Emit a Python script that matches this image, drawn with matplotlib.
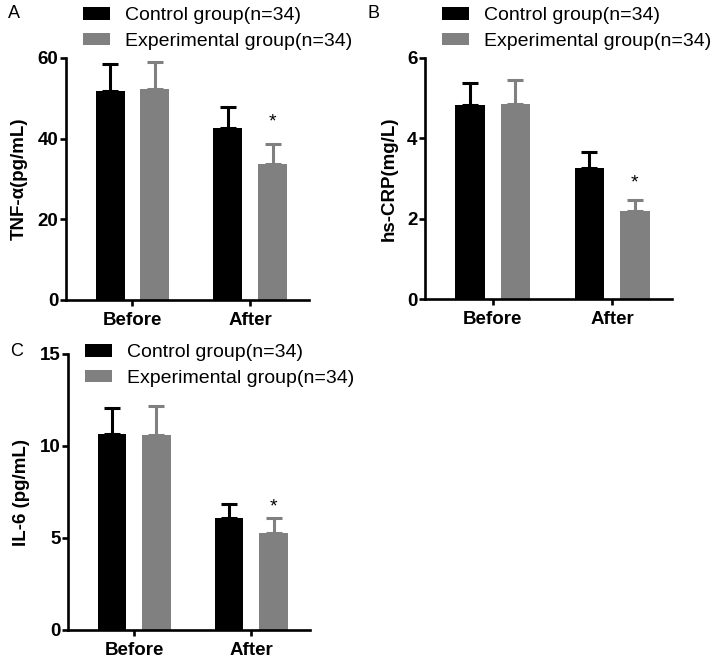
import numpy as np
import matplotlib
matplotlib.use('Agg')
import matplotlib.pyplot as plt

plt.rcParams['font.family'] = ['Liberation Sans', 'DejaVu Sans']

groups = ['Before', 'After']
labels = ['Control group(n=34)', 'Experimental group(n=34)']

# panel A: TNF-a
tnf_ctrl = [51.9, 42.7]
tnf_ctrl_sd = [6.5, 5.1]
tnf_exp = [52.2, 33.7]
tnf_exp_sd = [6.7, 4.9]

# panel B: hs-CRP
crp_ctrl = [4.83, 3.25]
crp_ctrl_sd = [0.54, 0.40]
crp_exp = [4.85, 2.20]
crp_exp_sd = [0.60, 0.26]

# panel C: IL-6
il6_ctrl = [10.63, 6.07]
il6_ctrl_sd = [1.45, 0.76]
il6_exp = [10.60, 5.25]
il6_exp_sd = [1.57, 0.82]

W, H = 718, 662
fig = plt.figure(figsize=(W / 100, H / 100), dpi=100)

BLACK = '#000000'
GREY = '#808080'


def panel(rect, ctrl, ctrl_sd, exp, exp_sd, ymax, step, ylabel, letter, letter_y, star_y, legend_top):
    l, r, t, b = rect
    ax = fig.add_axes([l / W, 1 - b / H, (r - l) / W, (b - t) / H])
    x = np.arange(len(groups))
    off = 0.19
    w = 0.245
    ax.bar(x - off, ctrl, w, color=BLACK, label=labels[0], zorder=2)
    ax.bar(x + off, exp, w, color=GREY, label=labels[1], zorder=2)
    ax.errorbar(x - off, ctrl, yerr=[np.zeros(2), ctrl_sd], fmt='none', ecolor=BLACK,
                elinewidth=2.2, capsize=5.5, capthick=2.2, zorder=3)
    ax.errorbar(x + off, exp, yerr=[np.zeros(2), exp_sd], fmt='none', ecolor=GREY,
                elinewidth=2.2, capsize=5.5, capthick=2.2, zorder=3)
    ax.text(1 + off, star_y, '*', ha='center', va='center', fontsize=14, color='black')
    ax.set_xlim(-0.565, 1.5)
    ax.set_ylim(0, ymax)
    ax.set_yticks(np.arange(0, ymax + 0.01, step))
    ax.set_xticks(x)
    ax.set_xticklabels(groups)
    for s in ['top', 'right']:
        ax.spines[s].set_visible(False)
    for s in ['left', 'bottom']:
        ax.spines[s].set_linewidth(1.9)
    ax.tick_params(width=1.9, length=4, labelsize=13.5, pad=1.5)
    ax.tick_params(axis='x', pad=4.5)
    for lab in ax.get_xticklabels() + ax.get_yticklabels():
        lab.set_fontweight('bold')
    ax.set_ylabel(ylabel, fontsize=13.5, fontweight='bold', labelpad=7)
    fig.text((l - 58) / W, 1 - letter_y / H, letter, fontsize=13, va='center', ha='left')
    ax.legend(loc='upper left', bbox_to_anchor=((l + 17) / W, 1 - legend_top / H),
              bbox_transform=fig.transFigure, frameon=False, fontsize=14,
              handlelength=1.4, handleheight=0.62, handletextpad=0.75,
              labelspacing=0.45, borderpad=0, borderaxespad=0)
    return ax


panel((66, 309, 58, 300), tnf_ctrl, tnf_ctrl_sd, tnf_exp, tnf_exp_sd, 60, 20,
      'TNF-α(pg/mL)', 'A', 14, 44.2, 7)
panel((425, 672, 58, 299), crp_ctrl, crp_ctrl_sd, crp_exp, crp_exp_sd, 6, 2,
      'hs-CRP(mg/L)', 'B', 14, 2.9, 7)
panel((68, 310, 354, 630), il6_ctrl, il6_ctrl_sd, il6_exp, il6_exp_sd, 15, 5,
      'IL-6 (pg/mL)', 'C', 351, 6.7, 344)

fig.savefig('out.png', dpi=100)
